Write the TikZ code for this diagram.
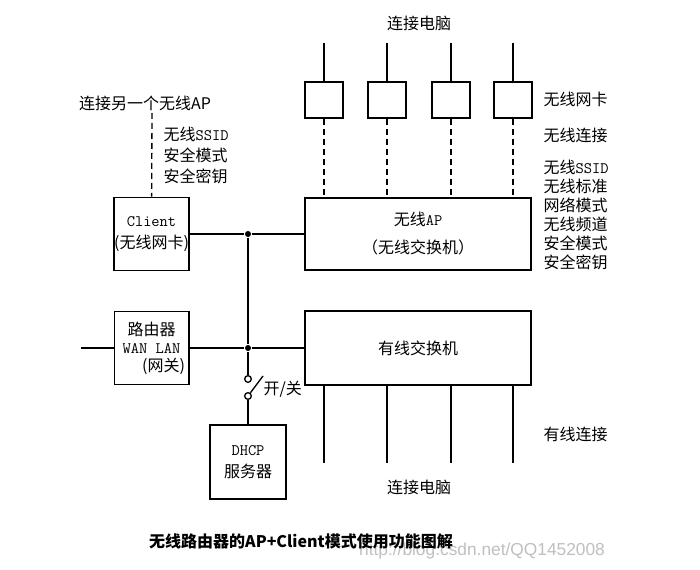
\documentclass[tikz,border=0pt]{standalone}
\usepackage{fontspec}
\setmainfont{Noto Sans CJK SC}
\newfontfamily\markfont{Liberation Sans}
\usepackage{tikz}
\tikzstyle{box}=[draw, line width=1pt, inner sep=0pt, align=center]
\tikzstyle{card}=[box, minimum width=28.5pt, minimum height=27pt]
\tikzstyle{side text}=[inner sep=0pt, anchor=west, align=left]
\tikzstyle{dot}=[circle, fill, inner sep=0pt, minimum size=4.5pt]
\tikzstyle{contact}=[circle, draw, line width=1pt, fill=white, inner sep=0pt, minimum size=5pt]
\tikzstyle{wireless}=[line width=1pt, dash pattern=on 4.5pt off 3pt]

\begin{document}
\begin{tikzpicture}[x=0.75pt, y=-0.75pt, line width=1pt, every node/.style={font=\fontsize{12}{15}\selectfont}]
\useasboundingbox (0,0) rectangle (700,570);

\node[box, minimum width=169.5pt, minimum height=54pt] (ap) at (418,234) {无线\texttt{AP}\\[6pt]（无线交换机）};
\node[box, minimum width=169.5pt, minimum height=55.5pt] (sw) at (418,348) {有线交换机};
\node[box, minimum width=56pt, minimum height=55pt] (client) at (151.5,234) {\texttt{Client}\\[2pt](无线网卡)};
\node[box, minimum width=56pt, minimum height=55pt, font=\fontsize{12}{13.5}\selectfont] (router) at (151.5,348) {路由器\\\texttt{WAN LAN}\\\hspace*{1.5em}(网关)};
\node[box, minimum width=57pt, minimum height=55.5pt, font=\fontsize{12}{16}\selectfont] (dhcp) at (248,462) {\texttt{DHCP}\\服务器};

\foreach \i/\x in {1/324, 2/387, 3/451, 4/513} {
  \node[card] (card\i) at (\x,100) {};
  \coordinate (pc\i) at (\x,43);
  \coordinate (wpc\i) at (\x,463);
  \draw (pc\i) -- (card\i);
  \draw[wireless] (card\i) -- (card\i |- ap.north);
  \draw (sw.south -| wpc\i) -- (wpc\i);
}

\coordinate (otherap) at (152,113);
\coordinate (wan) at (81,348);
\coordinate (lever) at (263,376);
\node[dot] (j1) at (248,234) {};
\node[dot] (j2) at (248,348) {};
\node[contact] (k1) at (248,379) {};
\node[contact] (k2) at (248,396) {};

\draw[wireless] (otherap) -- (client);
\draw (client) -- (j1) -- (ap);
\draw (wan) -- (router);
\draw (router) -- (j2) -- (sw);
\draw (j1) -- (j2) -- (k1);
\draw (k2) -- (lever);
\draw (k2) -- (dhcp);

\node (pctop) at (419,23) {连接电脑};
\node (pcbottom) at (419,487) {连接电脑};
\node (otherlabel) at (145,103) {连接另一个无线AP};
\node[side text, font=\fontsize{12}{16}\selectfont] (clientset) at (163,155.5) {无线\texttt{SSID}\\安全模式\\安全密钥};
\node[side text] (cardlabel) at (543,99) {无线网卡};
\node[side text] (wlabel) at (543,135) {无线连接};
\node[side text, font=\fontsize{12}{14.3}\selectfont] (apset) at (543,215) {无线\texttt{SSID}\\无线标准\\网络模式\\无线频道\\安全模式\\安全密钥};
\node[side text] (wiredlabel) at (543,434) {有线连接};
\node[side text] (switchlabel) at (263,389) {开/关};

\node[text=black!25, font=\markfont\fontsize{13}{15}\selectfont] (mark) at (482,551) {http://blog.csdn.net/QQ1452008};
\node[font=\bfseries\fontsize{12}{14}\selectfont] (caption) at (301,541) {无线路由器的AP+Client模式使用功能图解};
\end{tikzpicture}
\end{document}
